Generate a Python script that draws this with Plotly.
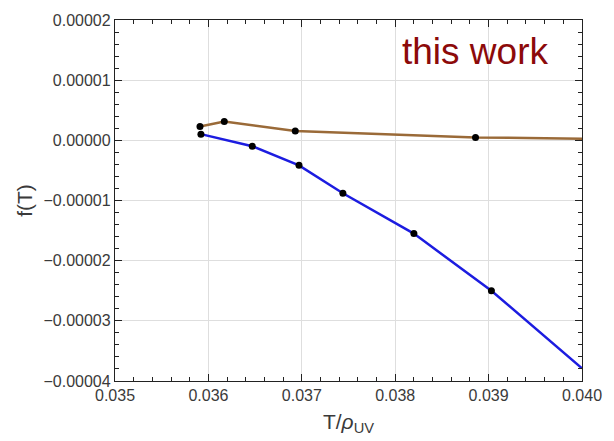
import plotly.graph_objects as go

# Upper branch (brown): sampled points, then the curve continued to the edge
upper_T = [0.03591, 0.03617, 0.03693, 0.03886]
upper_f = [2.30e-6, 3.11e-6, 1.57e-6, 0.49e-6]
upper_tail_T = [0.0400]
upper_tail_f = [0.26e-6]

# Lower branch (blue)
lower_T = [0.03592, 0.03647, 0.03697, 0.03744, 0.03820, 0.03903]
lower_f = [1.03e-6, -0.98e-6, -4.16e-6, -8.80e-6, -15.5e-6, -25.0e-6]
lower_tail_T = [0.0400]
lower_tail_f = [-37.9e-6]

x_ticks = [0.035, 0.036, 0.037, 0.038, 0.039, 0.040]
y_ticks = [0.00002, 0.00001, 0.0, -0.00001, -0.00002, -0.00003, -0.00004]

BROWN = "#9a6a38"
BLUE = "#1c1ce0"
TEXT = "#3a3a3a"
FONT = "Liberation Sans, Arial, sans-serif"

fig = go.Figure()

fig.add_trace(go.Scatter(
    x=upper_T + upper_tail_T, y=upper_f + upper_tail_f, mode="lines",
    line=dict(color=BROWN, width=2.5), hoverinfo="skip", showlegend=False,
))
fig.add_trace(go.Scatter(
    x=lower_T + lower_tail_T, y=lower_f + lower_tail_f, mode="lines",
    line=dict(color=BLUE, width=2.5), hoverinfo="skip", showlegend=False,
))
fig.add_trace(go.Scatter(
    x=upper_T + lower_T, y=upper_f + lower_f, mode="markers",
    marker=dict(color="black", size=7), showlegend=False,
))

axis_common = dict(
    showline=True, linecolor="#222222", linewidth=1.3, mirror="allticks",
    ticks="inside", ticklen=7, tickwidth=1, tickcolor="#222222",
    showgrid=True, gridcolor="#dedede", gridwidth=1, zeroline=False,
    tickfont=dict(family=FONT, size=16, color=TEXT),
)

fig.update_xaxes(
    range=[0.035, 0.040], tickvals=x_ticks, tickformat=".3f",
    minor=dict(ticks="inside", ticklen=4, dtick=0.0002, tick0=0.035,
               tickcolor="#222222", showgrid=False),
    title=dict(text="T/<i>ρ</i><sub>UV</sub>",
               font=dict(family=FONT, size=21, color=TEXT), standoff=10),
    **axis_common,
)
fig.update_yaxes(
    range=[-0.00004, 0.00002], tickvals=y_ticks, tickformat=".5f",
    minor=dict(ticks="inside", ticklen=4, dtick=0.000002, tick0=0,
               tickcolor="#222222", showgrid=False),
    title=dict(text="f(T)", font=dict(family=FONT, size=21, color=TEXT),
               standoff=5),
    **axis_common,
)

fig.add_annotation(
    x=0.931, y=0.975, xref="paper", yref="paper", xanchor="right", yanchor="top",
    text="this work", showarrow=False,
    font=dict(family=FONT, size=37, color="#8c0a0a"),
)

fig.update_layout(
    width=614, height=441,
    margin=dict(l=115, r=23, t=16, b=58),
    paper_bgcolor="white", plot_bgcolor="white",
)

fig.write_html("out.html")
